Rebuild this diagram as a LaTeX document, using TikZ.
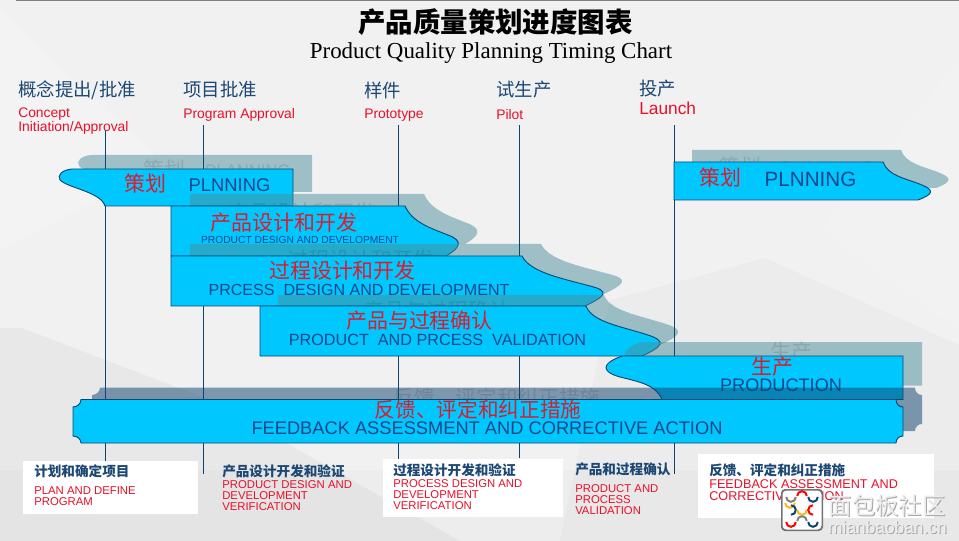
\documentclass[tikz,border=0pt]{standalone}
\usepackage{fontspec}
\setmainfont{Liberation Sans}
\newfontfamily\cjk{Noto Sans CJK SC}
\newfontfamily\serifpart{Liberation Serif}
\usepackage{tikz}
\definecolor{barcyan}{RGB}{0,200,255}
\definecolor{barline}{RGB}{11,70,115}
\definecolor{barnavy}{RGB}{20,70,140}
\definecolor{headnavy}{RGB}{28,72,115}
\definecolor{stagered}{RGB}{232,16,42}
\definecolor{barred}{RGB}{218,28,48}
\definecolor{tealshade}{RGB}{74,142,154}
\definecolor{slateshade}{RGB}{19,69,112}
\definecolor{pagegray}{RGB}{241,241,242}
\definecolor{markgold}{RGB}{250,185,20}
\tikzset{
  barbody/.style={fill=barcyan, draw=barline, line width=0.7pt},
  tealshadow/.style={fill=tealshade, fill opacity=0.5, draw=none},
  slateshadow/.style={fill=slateshade, fill opacity=0.52, draw=none},
  ghosttext/.style={inner sep=0pt, text=black, text opacity=0.11},
  cnlabel/.style={inner sep=0pt, text=barred, font=\cjk\fontsize{15.7}{16}\selectfont},
  stagehead/.style={anchor=west, inner sep=0pt, text=headnavy, font=\cjk\fontsize{13.8}{14}\selectfont},
  stagename/.style={anchor=west, inner sep=0pt, align=left, text=stagered, font=\fontsize{10.4}{10}\selectfont},
  boxhead/.style={anchor=west, inner sep=0pt, text=headnavy, font=\cjk\bfseries\fontsize{10.2}{11}\selectfont},
  boxtext/.style={anchor=west, inner sep=0pt, align=left, text=stagered, font=\fontsize{8.5}{8.3}\selectfont},
  whitebox/.style={fill=white, draw=none},
  stageline/.style={draw=barline, line width=0.8pt}
}
% outlines of the bars, in pixels of the slide
\newcommand{\planleftpath}{(72,169) -- (293,169) -- (293,206) -- (105,206) .. controls (101,192) and (68,188) .. (60,180) .. controls (57,175) and (62,170) .. (72,169) -- cycle}
\newcommand{\designpath}{(171,206) -- (405,206) .. controls (412,222) and (430,228) .. (448,235) .. controls (464,241) and (460,248) .. (446,256) -- (171,256) -- cycle}
\newcommand{\processpath}{(171,256) -- (522,256) .. controls (530,272) and (560,278) .. (590,286) .. controls (610,291) and (606,296) .. (585,306) -- (171,306) -- cycle}
\newcommand{\validpath}{(260,306) -- (586,306) .. controls (592,322) and (620,326) .. (648,335) .. controls (666,341) and (664,346) .. (642,356) -- (260,356) -- cycle}
\newcommand{\planrightpath}{(674,162) -- (883,162) .. controls (888,176) and (905,178) .. (922,185) .. controls (934,190) and (934,194) .. (918,200) -- (674,200) -- cycle}
\newcommand{\productionpath}{(622,356) -- (903,356) -- (903,399.5) -- (662,399.5) .. controls (656,385) and (640,382) .. (620,377) .. controls (602,372) and (600,364) .. (622,356) -- cycle}
\newcommand{\feedbackpath}{(81,399.5) -- (896,399.5) .. controls (896,404) and (899,407) .. (903,407) -- (903,436) .. controls (899,436) and (896,439) .. (896,443) -- (81,443) .. controls (81,439) and (77,436) .. (73,436) -- (73,407) .. controls (77,407) and (81,404) .. (81,399.5) -- cycle}
\begin{document}
\begin{tikzpicture}[x=0.75pt,y=-0.75pt]
\useasboundingbox (0,0) rectangle (959,541);
% Backdrop
\fill[pagegray] (0,0) rectangle (959,541);
\fill[white, opacity=0.16] (0,10) -- (165,165) -- (0,250) -- cycle;
\fill[white, opacity=0.14] (959,60) -- (820,230) -- (959,330) -- cycle;
\fill[black, opacity=0.018] (765,258) -- (610,300) -- (560,541) -- (959,541) -- (959,345) -- cycle;
\fill[black, opacity=0.035] (0,328) -- (22,328) -- (210,400) -- (460,541) -- (0,541) -- cycle;
\fill[black, opacity=0.015] (0,470) -- (959,470) -- (959,541) -- (0,541) -- cycle;
\draw[gray, line width=1pt] (16,0) -- (959,0);
% Title
\node[inner sep=0pt, font=\cjk\bfseries\fontsize{20.6}{22}\selectfont] (charttitle) at (495.5,22) {产品质量策划进度图表};
\node[inner sep=0pt, font=\serifpart\fontsize{17.2}{18}\selectfont] (chartsubtitle) at (491,53) {Product Quality Planning Timing Chart};
% Stage headings
\node[stagehead] (headconcept) at (18,90) {概念提出/批准};
\node[stagehead] (headprogram) at (183,90) {项目批准};
\node[stagehead] (headproto) at (364,90) {样件};
\node[stagehead] (headpilot) at (496,90) {试生产};
\node[stagehead] (headlaunch) at (639,89) {投产};
\node[stagename] (nameconcept) at (18,121) {Concept\\Initiation/Approval};
\node[stagename] (nameprogram) at (183,115) {Program Approval};
\node[stagename] (nameproto) at (364,115) {Prototype};
\node[stagename] (namepilot) at (496,115) {Pilot};
\node[stagename, font=\fontsize{13}{13}\selectfont] (namelaunch) at (639,108) {Launch};
% Planning bar, left
\path[tealshadow, shift={(19,-14)}] \planleftpath;
\node[ghosttext, font=\cjk\fontsize{15.7}{16}\selectfont] (ghostplan) at (164,170) {策划};
\node[ghosttext, font=\fontsize{12.5}{14}\selectfont] (ghostplanen) at (248,171) {PLANNING};
\draw[barbody] \planleftpath;
\node[cnlabel] (planzh) at (145,184) {策划};
\node[inner sep=0pt, text=barnavy, font=\fontsize{13.8}{14}\selectfont] (planen) at (229.5,185.5) {PLNNING};
% Product design bar
\path[tealshadow, shift={(19,-12)}] \designpath;
\node[ghosttext, font=\cjk\fontsize{15.7}{16}\selectfont] (ghostdesign) at (302,213) {产品设计和开发};
\draw[barbody] \designpath;
\node[cnlabel] (designzh) at (284,223) {产品设计和开发};
\node[inner sep=0pt, text=barnavy, font=\fontsize{7.7}{8}\selectfont] (designen) at (300,239.5) {PRODUCT DESIGN AND DEVELOPMENT};
% Process design bar
\path[tealshadow, shift={(19,-12)}] \processpath;
\node[ghosttext, font=\cjk\fontsize{15.7}{16}\selectfont] (ghostprocess) at (361,260) {过程设计和开发};
\draw[barbody] \processpath;
\node[cnlabel] (processzh) at (342.5,271) {过程设计和开发};
\node[inner sep=0pt, text=barnavy, font=\fontsize{12.05}{13}\selectfont] (processen) at (359,289.5) {PRCESS\ \ DESIGN AND DEVELOPMENT};
% Validation bar
\path[tealshadow, shift={(18,-11)}] \validpath;
\node[ghosttext, font=\cjk\fontsize{15.7}{16}\selectfont] (ghostvalid) at (437,311) {产品与过程确认};
\draw[barbody] \validpath;
\node[cnlabel] (validzh) at (419.5,321) {产品与过程确认};
\node[inner sep=0pt, text=barnavy, font=\fontsize{12.15}{13}\selectfont] (validen) at (437.5,339.5) {PRODUCT\ \ AND PRCESS\ \ VALIDATION};
% Planning bar, right
\path[tealshadow, shift={(18,-12)}] \planrightpath;
\node[ghosttext, font=\cjk\fontsize{15.7}{16}\selectfont] (ghostplanr) at (740,167) {策划};
\node[ghosttext, font=\fontsize{14}{15}\selectfont] (ghostplanren) at (828,168) {PLANNING};
\draw[barbody] \planrightpath;
\node[cnlabel] (planrzh) at (720.5,178) {策划};
\node[inner sep=0pt, text=barnavy, font=\fontsize{15.5}{15}\selectfont] (planren) at (810.5,179) {PLNNING};
% Production bar
\path[tealshadow, shift={(19,-14)}] \productionpath;
\node[ghosttext, font=\cjk\fontsize{15.7}{16}\selectfont] (ghostprod) at (791,352) {生产};
\draw[barbody] \productionpath;
\node[cnlabel] (prodzh) at (772.5,367) {生产};
\node[inner sep=0pt, text=barnavy, font=\fontsize{13.6}{13}\selectfont] (proden) at (781,385.5) {PRODUCTION};
% Feedback bar
\path[slateshadow, shift={(19,-12)}] \feedbackpath;
\node[ghosttext, font=\cjk\fontsize{15.5}{16}\selectfont] (ghostfeed) at (497,398) {反馈、评定和纠正措施};
\draw[barbody] \feedbackpath;
\node[cnlabel, font=\cjk\fontsize{15.5}{16}\selectfont] (feedzh) at (478,410) {反馈、评定和纠正措施};
\node[inner sep=0pt, text=barnavy, font=\fontsize{13.7}{14}\selectfont] (feeden) at (487,428.5) {FEEDBACK ASSESSMENT AND CORRECTIVE ACTION};
% White boxes under the bars
\fill[whitebox] (23,461) rectangle (198,514);
\fill[whitebox] (383,459) rectangle (563,517);
\fill[whitebox] (698,454) rectangle (934,518);
% Stage lines run behind the bar bodies only
\begin{scope}[even odd rule]
\clip (0,0) rectangle (959,541) \planleftpath \designpath \processpath \validpath \planrightpath \productionpath \feedbackpath;
\foreach \stage/\linex/\linetop/\linebottom in {concept/105.5/130/461,program/203.5/125/474,proto/398.5/125/459,pilot/519.5/125/458,launch/674.5/125/474}{
  \coordinate (\stage top) at (\linex,\linetop);
  \coordinate (\stage bottom) at (\linex,\linebottom);
  \draw[stageline] (\stage top) -- (\stage bottom);
}
\end{scope}
% Box texts
\node[boxhead] (boxplanhead) at (34,471) {计划和确定项目};
\node[boxtext] (boxplantext) at (34,496) {PLAN AND DEFINE\\PROGRAM};
\node[boxhead] (boxdesignhead) at (222,471) {产品设计开发和验证};
\node[boxtext] (boxdesigntext) at (222,495.5) {PRODUCT DESIGN AND\\DEVELOPMENT\\VERIFICATION};
\node[boxhead] (boxprocesshead) at (393,470) {过程设计开发和验证};
\node[boxtext] (boxprocesstext) at (393,494.5) {PROCESS DESIGN AND\\DEVELOPMENT\\VERIFICATION};
\node[boxhead] (boxvalidhead) at (575,469) {产品和过程确认};
\node[boxtext] (boxvalidtext) at (575,499.5) {PRODUCT AND\\PROCESS\\VALIDATION};
\node[boxhead] (boxfeedhead) at (709,470) {反馈、评定和纠正措施};
\node[boxtext, font=\fontsize{9.5}{8.9}\selectfont] (boxfeedtext) at (709,490) {FEEDBACK ASSESSMENT AND\\CORRECTIVE ACTION};
% Site mark
\fill[black!55, rounded corners=3pt] (781,489) rectangle (823,531);
\fill[white, rounded corners=3pt] (782.5,490.5) rectangle (821.5,529.5);
\foreach \cx/\cy/\tone/\angle in {791/497/gray/180,802/496/red/0,813/497/barline/180,790/503/markgold/180,791/510/barline/270,802/510/markgold/180,813/510/red/90,791/522/red/180,802/521/gray/0,813/522/barline/180}{
  \draw[\tone, line width=1.5pt] (\cx,\cy) ++(\angle:3.6pt) arc[start angle=\angle, delta angle=180, radius=3.6pt];
}
\node[inner sep=0pt, text=black!35, font=\cjk\fontsize{17.5}{18}\selectfont] (marknameback) at (888,507) {面包板社区};
\node[inner sep=0pt, text=white!93!black, font=\cjk\fontsize{17.5}{18}\selectfont] (markname) at (887,506) {面包板社区};
\node[inner sep=0pt, text=black!35, font=\fontsize{13}{13}\selectfont] (marksiteback) at (888.5,528) {mianbaoban.cn};
\node[inner sep=0pt, text=white!93!black, font=\fontsize{13}{13}\selectfont] (marksite) at (887.5,527) {mianbaoban.cn};
\end{tikzpicture}
\end{document}
